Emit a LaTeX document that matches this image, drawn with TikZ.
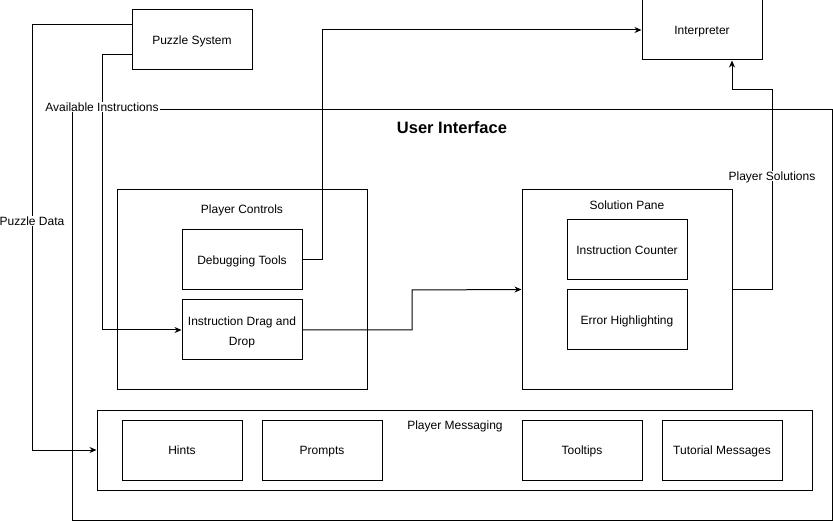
\documentclass[tikz,border=0pt]{standalone}
\usepackage{fontspec}
\setmainfont{Liberation Sans}
\usetikzlibrary{arrows.meta}
\begin{document}
\begin{tikzpicture}[x=1pt,y=-1pt,
  every node/.style={font=\fontsize{12}{20}\selectfont, text depth=0pt},
  box/.style={draw, line width=1pt, rectangle, inner sep=0pt, align=center},
  lbl/.style={inner sep=0pt},
  edgelbl/.style={fill=white, inner sep=1pt},
  conn/.style={line width=1pt},
  arr/.style={conn, -{Stealth[length=7pt,width=6pt]}}]
\useasboundingbox (0,0) rectangle (833,521);
% outer containers
\node[box, minimum width=760, minimum height=410] (ui) at (452,315) {};
\node[lbl, font=\fontsize{16.5}{18}\selectfont\bfseries] (uit) at (452,128) {User Interface};
\node[box, minimum width=120, minimum height=60] (ps) at (192,40) {Puzzle System};
\node[box, minimum width=120, minimum height=60] (interp) at (702,30) {Interpreter};
% player controls
\node[box, minimum width=250, minimum height=199] (pc) at (242,289.5) {};
\node[lbl] (pct) at (242,209) {Player Controls};
\node[box, minimum width=120, minimum height=60] (dbg) at (242,260) {Debugging Tools};
\node[box, minimum width=120, minimum height=60] (idd) at (242,330) {\raisebox{-1.5pt}{Instruction Drag and}\\\raisebox{-1.5pt}{Drop}};
% solution pane
\node[box, minimum width=210, minimum height=199] (sp) at (627,289.5) {};
\node[lbl] (spt) at (627,205) {Solution Pane};
\node[box, minimum width=120, minimum height=60] (ic) at (627,250) {Instruction Counter};
\node[box, minimum width=120, minimum height=60] (eh) at (627,320) {Error Highlighting};
% player messaging
\node[box, minimum width=715, minimum height=80] (pm) at (454.5,450) {};
\node[lbl] (pmt) at (455,425) {Player Messaging};
\node[box, minimum width=120, minimum height=60] (hints) at (182,450) {Hints};
\node[box, minimum width=120, minimum height=60] (prompts) at (322,450) {Prompts};
\node[box, minimum width=120, minimum height=60] (tips) at (582,450) {Tooltips};
\node[box, minimum width=120, minimum height=60] (tut) at (722,450) {Tutorial Messages};
% connectors
\draw[arr] ([yshift=15pt]ps.west) -| (32,450) -- (pm.west);
\draw[arr] ([yshift=-15pt]ps.west) -| (102,330) -- (idd.west);
\draw[arr] (dbg.east) -| (322,30) -- (interp.west);
\draw[arr] (idd.east) -| (412,290) -- (sp.west);
\draw[arr] (sp.east) -| (772,90) -| ([xshift=30pt]interp.south);
% edge labels
\node[edgelbl] (lpd) at (32,221) {Puzzle Data};
\node[edgelbl] (lai) at (102,107) {Available Instructions};
\node[edgelbl] (lpsol) at (772,176) {Player Solutions};
\end{tikzpicture}
\end{document}
